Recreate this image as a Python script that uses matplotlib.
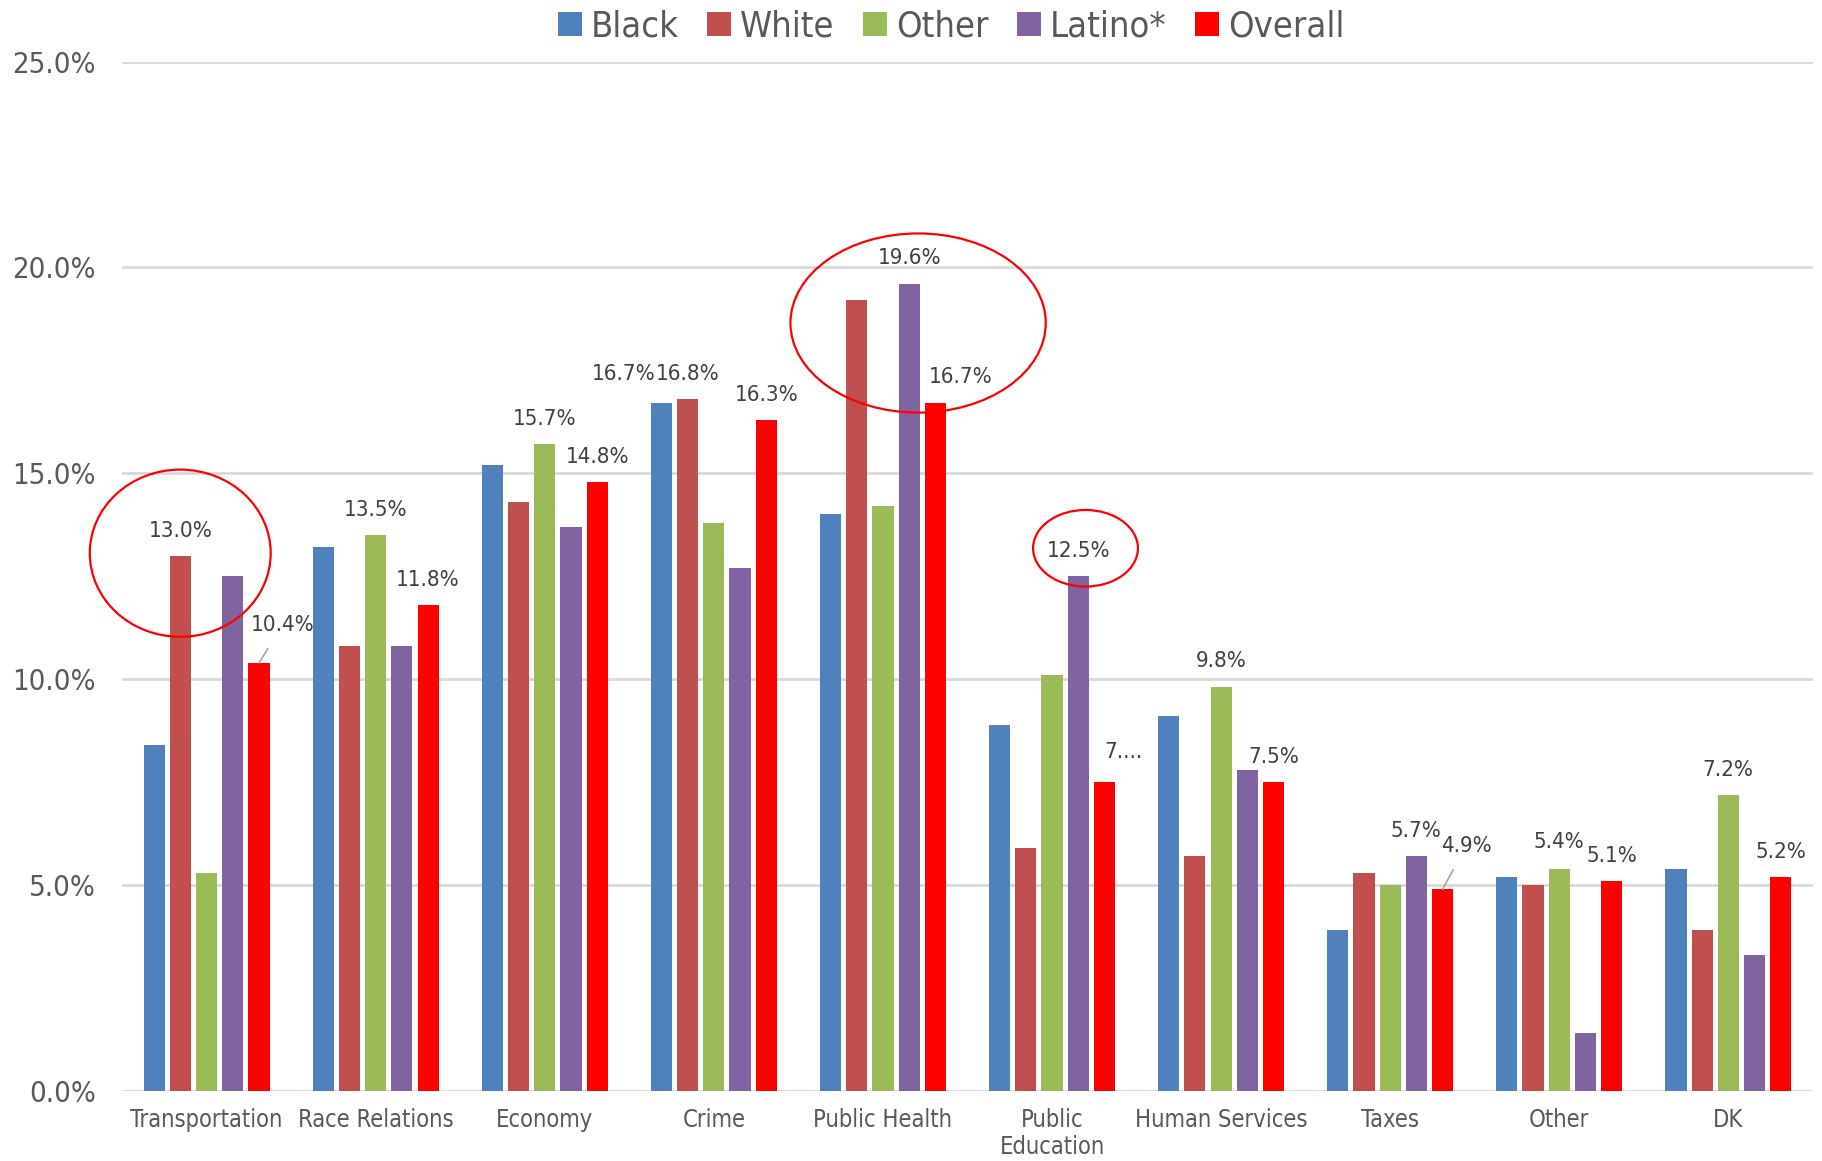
import numpy as np
import matplotlib
matplotlib.use("Agg")
import matplotlib.pyplot as plt
from matplotlib.patches import Ellipse

# data
categories = ["Transportation", "Race Relations", "Economy", "Crime", "Public Health",
              "Public\nEducation", "Human Services", "Taxes", "Other", "DK"]
groups = ["Black", "White", "Other", "Latino*", "Overall"]
black = [8.4, 13.2, 15.2, 16.7, 14.0, 8.9, 9.1, 3.9, 5.2, 5.4]
white = [13.0, 10.8, 14.3, 16.8, 19.2, 5.9, 5.7, 5.3, 5.0, 3.9]
other = [5.3, 13.5, 15.7, 13.8, 14.2, 10.1, 9.8, 5.0, 5.4, 7.2]
latino = [12.5, 10.8, 13.7, 12.7, 19.6, 12.5, 7.8, 5.7, 1.4, 3.3]
overall = [10.4, 11.8, 14.8, 16.3, 16.7, 7.5, 7.5, 4.9, 5.1, 5.2]
colors = ["#4F81BD", "#C0504D", "#9BBB59", "#8064A2", "#FF0000"]

# which bars get a value label: (category, series, dx pt, dy pt, text override, leader)
labels = [
    (0, 1, 0, 18, None, False), (0, 4, 17, 27, None, True),
    (1, 2, 0, 18, None, False), (1, 4, 0, 18, None, False),
    (2, 2, 0, 18, None, False), (2, 4, 0, 18, None, False),
    (3, 0, -27, 21, None, False), (3, 1, 0, 18, None, False), (3, 4, 0, 18, None, False),
    (4, 3, 0, 19, None, False), (4, 4, 18, 19, None, False),
    (5, 3, 0, 18, None, False), (5, 4, 14, 22, "7....", False),
    (6, 2, 0, 19, None, False), (6, 4, 0, 18, None, False),
    (7, 3, 0, 18, None, False), (7, 4, 17, 31, None, True),
    (8, 2, 0, 19, None, False), (8, 4, 0, 18, None, False),
    (9, 2, 0, 18, None, False), (9, 4, 0, 18, None, False),
]

series = [black, white, other, latino, overall]
fam = "DejaVu Sans"
txt_gray = "#595959"

fig = plt.figure(figsize=(18.22, 11.61), dpi=100)
ax = fig.add_axes([0.067, 0.0603, 0.928, 0.8867])

x = np.arange(len(categories))
step = 0.155
w = 0.125
bars = []
for j, vals in enumerate(series):
    b = ax.bar(x + (j - 2) * step, vals, width=w, color=colors[j], label=groups[j], zorder=3)
    bars.append(b)

ax.set_xlim(-0.5, len(categories) - 0.5)
ax.set_ylim(0, 25)
ax.set_yticks(np.arange(0, 26, 5))
ax.set_yticklabels(["{:.1f}%".format(v) for v in np.arange(0, 26, 5)],
                   fontsize=21, color=txt_gray, family=fam, fontstretch="condensed")
ax.set_xticks(x)
ax.set_xticklabels(categories, fontsize=17, color=txt_gray, family=fam,
                   fontstretch="condensed", linespacing=1.15)
ax.tick_params(axis="both", length=0)
ax.tick_params(axis="x", pad=12)
ax.tick_params(axis="y", pad=19)
ax.yaxis.grid(True, color="#d9d9d9", linewidth=2, zorder=0)
for s in ax.spines.values():
    s.set_visible(False)

# value labels
for ci, si, dx, dy, t, leader in labels:
    v = series[si][ci]
    bx = x[ci] + (si - 2) * step
    text = t if t else "{:.1f}%".format(v)
    kw = {}
    if leader:
        kw["arrowprops"] = dict(arrowstyle="-", color="#a6a6a6", lw=1.2,
                                shrinkA=9, shrinkB=0)
    ax.annotate(text, xy=(bx, v), xytext=(dx, dy), textcoords="offset points",
                ha="center", va="center", fontsize=16, color="#404040",
                family=fam, fontstretch="condensed", zorder=5, **kw)

# red circles
for cx, cy, ew, eh in [(-0.156, 13.06, 1.07, 4.06), (4.208, 18.65, 1.51, 4.35),
                       (5.198, 13.18, 0.62, 1.86)]:
    ax.add_patch(Ellipse((cx, cy), ew, eh, fill=False, edgecolor="#FF0000",
                         linewidth=1.6, zorder=6, clip_on=False))

leg = fig.legend(handles=bars, labels=groups, loc="center", bbox_to_anchor=(0.522, 0.977),
                 ncol=5, frameon=False, handlelength=0.65, handleheight=0.65,
                 handletextpad=0.25, columnspacing=0.8,
                 prop={"family": fam, "size": 26, "stretch": "condensed"})
for t in leg.get_texts():
    t.set_color(txt_gray)

fig.savefig("out.png", dpi=100)
